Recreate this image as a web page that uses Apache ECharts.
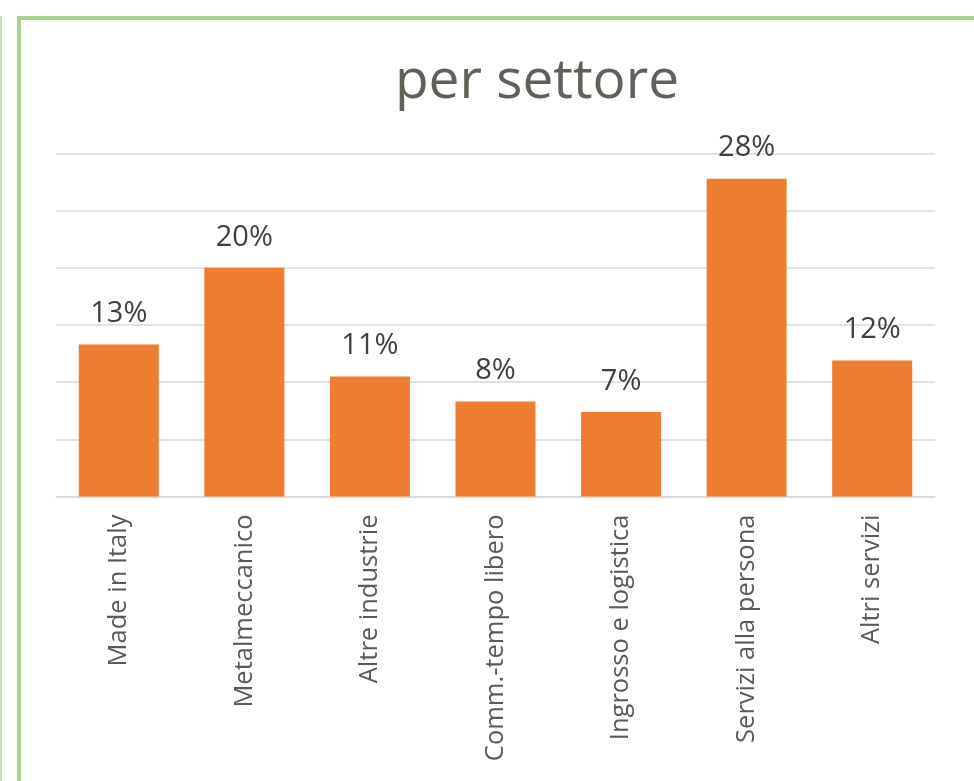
<!DOCTYPE html>
<html>
<head>
<meta charset="utf-8">
<script src="https://cdn.jsdelivr.net/npm/echarts@6/dist/echarts.min.js"></script>
<style>
html,body{margin:0;padding:0;background:#fff;}
#c{width:974px;height:781px;}
</style>
</head>
<body>
<div id="c"></div>
<script>
const categories = ["Made in Italy","Metalmeccanico","Altre industrie","Comm.-tempo libero","Ingrosso e logistica","Servizi alla persona","Altri servizi"];
const values = [13.3, 20.0, 10.5, 8.3, 7.4, 27.8, 11.9];
const yTicks = [0, 5, 10, 15, 20, 25, 30];
const titleText = "per settore";

const chart = echarts.init(document.getElementById('c'), null, {renderer:'canvas'});
const font = "'Open Sans', 'DejaVu Sans', sans-serif";
chart.setOption({
  animation: false,
  backgroundColor: '#ffffff',
  title: {
    text: titleText,
    left: 532, top: 50, textAlign: 'center',
    textStyle: {fontFamily: font, fontSize: 55, fontWeight: 'normal', color: '#60625a'}
  },
  graphic: [
    {type:'rect', shape:{x:0, y:16, width:2, height:781}, style:{fill:'#c5e0b4'}, silent:true},
    {type:'rect', shape:{x:17, y:16, width:974, height:4}, style:{fill:'#a9d18e'}, silent:true},
    {type:'rect', shape:{x:17, y:16, width:4, height:781}, style:{fill:'#a9d18e'}, silent:true}
  ],
  grid: {left: 56, right: 39, top: 153.5, bottom: 284.5, containLabel: false},
  xAxis: {
    type: 'category',
    data: categories,
    axisLine: {show: true, lineStyle: {color: '#d9d9d9', width: 1.5}},
    axisTick: {show: false},
    axisLabel: {rotate: 90, margin: 18, fontFamily: font, fontSize: 25.5, color: '#595959'}
  },
  yAxis: {
    type: 'value',
    min: yTicks[0], max: yTicks[yTicks.length-1], interval: 5,
    axisLabel: {show: false},
    axisLine: {show: false},
    axisTick: {show: false},
    splitLine: {show: true, lineStyle: {color: '#d9d9d9', width: 1.5}}
  },
  series: [{
    type: 'bar',
    data: values,
    barWidth: 80,
    itemStyle: {color: '#ed7d31'},
    label: {
      show: true, position: 'top', distance: 16,
      fontFamily: font, fontSize: 29, color: '#404040',
      formatter: p => Math.round(p.value) + '%'
    }
  }]
});
</script>
</body>
</html>
